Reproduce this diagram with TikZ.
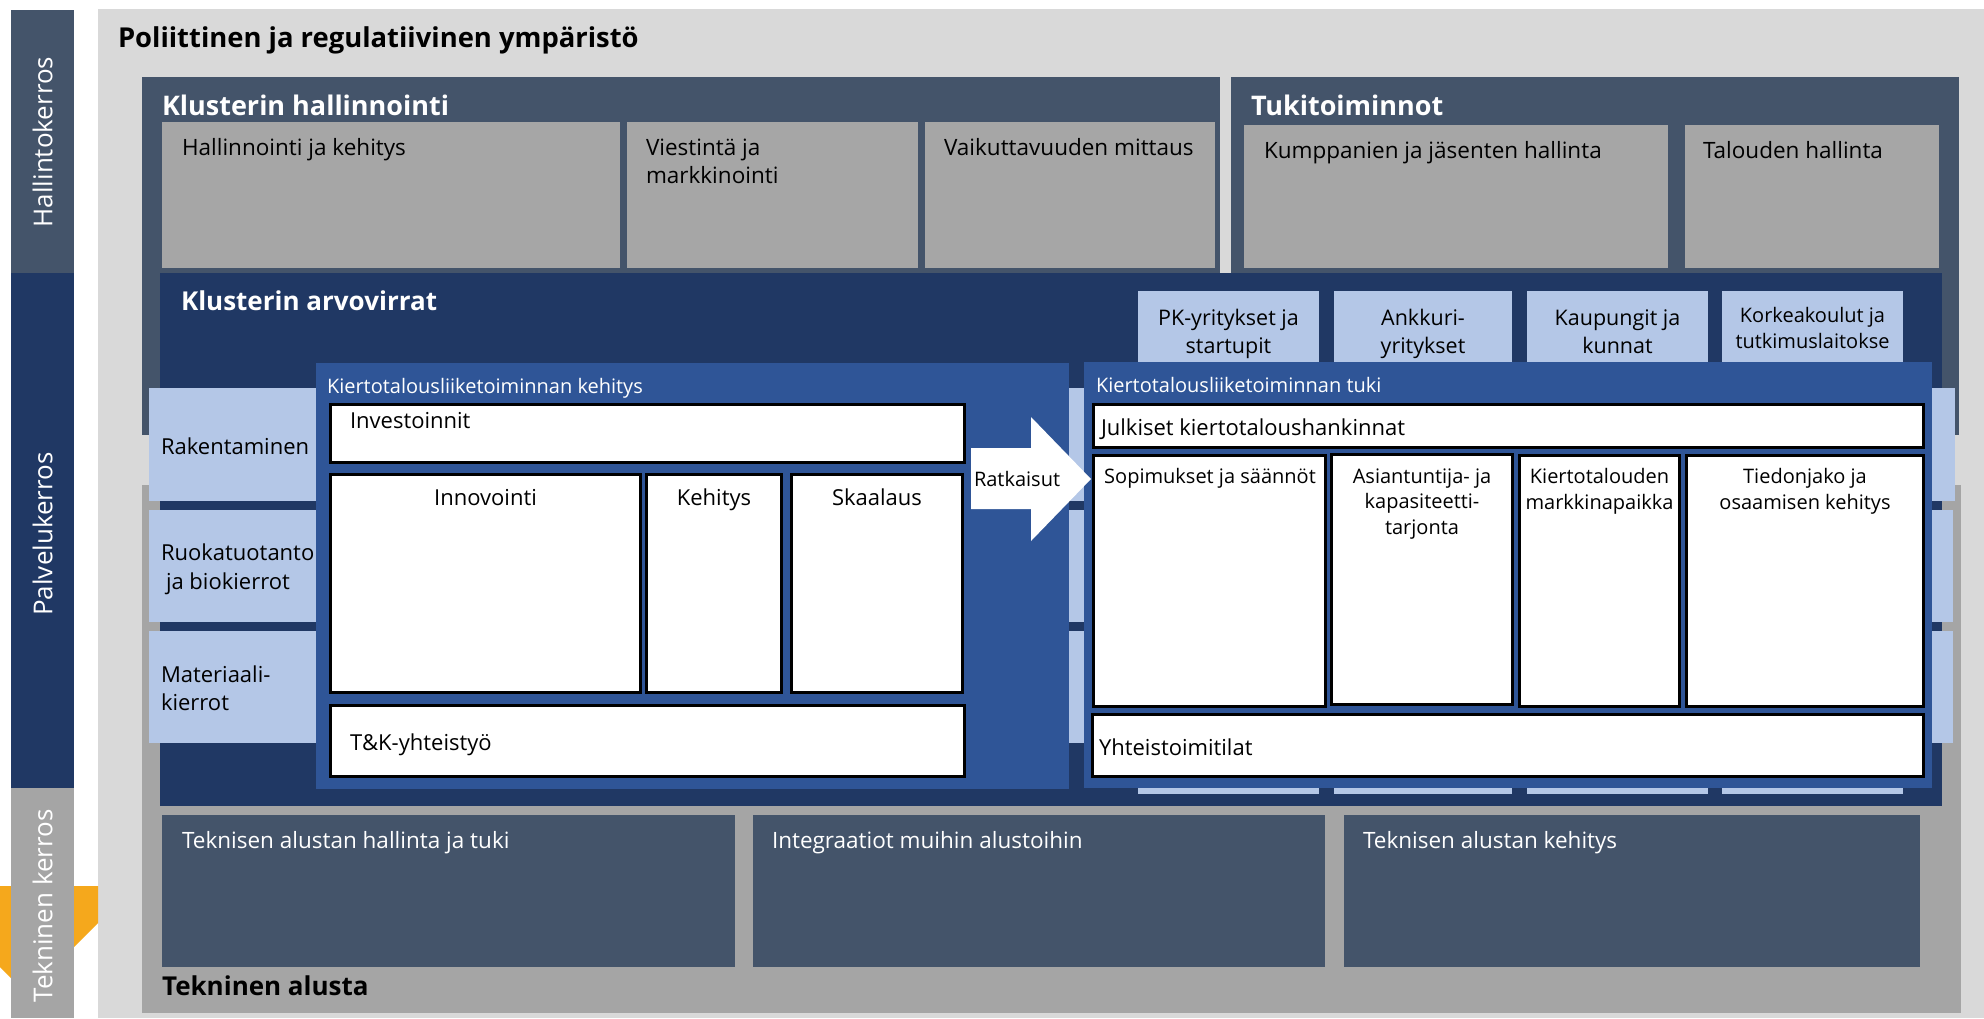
\documentclass[tikz,border=0pt]{standalone}
\usepackage{fontspec}
\setmainfont{Open Sans}
\definecolor{bggray}{HTML}{D9D9D9}
\definecolor{slate}{HTML}{44546A}
\definecolor{navy}{HTML}{203864}
\definecolor{midblue}{HTML}{2F5597}
\definecolor{lblue}{HTML}{B4C7E7}
\definecolor{boxgray}{HTML}{A6A6A6}
\definecolor{platgray}{HTML}{A5A5A5}
\definecolor{orng}{HTML}{F5A81C}
\begin{document}
\begin{tikzpicture}[x=1pt,y=-1pt,
  tl/.style={inner sep=0pt, outer sep=0pt, anchor=base west, align=left},
  tc/.style={inner sep=0pt, outer sep=0pt, anchor=base, align=center},
  reg/.style={font=\fontsize{22.5}{28}\selectfont},
  sm/.style={font=\fontsize{20}{25.5}\selectfont},
  col/.style={font=\fontsize{21.5}{28}\selectfont},
  ttl/.style={font=\bfseries\fontsize{27}{32}\selectfont},
  side/.style={inner sep=0pt, rotate=90, text=white, font=\fontsize{26}{30}\selectfont},
  wbox/.style={fill=white, draw=black, line width=3pt},
]
\useasboundingbox (0,0) rectangle (1984,1018);
\fill[white] (0,0) rectangle (1984,1018);
% background
\fill[bggray] (98,9) rectangle (1984,1018);
% orange chevron
\fill[orng] (0,886) -- (98,886) -- (98,923) -- (27,994) -- (0,967) -- cycle;
% side strips
\fill[slate] (11,10) rectangle (74,273);
\fill[navy] (11,273) rectangle (74,788);
\fill[platgray] (11,788) rectangle (74,1018);
\node[side] (sHall) at (42.5,142) {Hallintokerros};
\node[side] (sPalv) at (42.5,534) {Palvelukerros};
\node[side] (sTekn) at (42.5,906) {Tekninen kerros};
% title
\node[tl,font=\bfseries\fontsize{27.4}{32}\selectfont] (title) at (118,47) {Poliittinen ja regulatiivinen ympäristö};
% platform
\fill[platgray] (142,485) rectangle (1961,1013);
% governance boxes
\fill[slate] (142,77) rectangle (1220,435);
\fill[slate] (1231,77) rectangle (1959,435);
\node[tl,ttl,text=white] (klh) at (162,115) {Klusterin hallinnointi};
\node[tl,ttl,text=white] (tuk) at (1251,115) {Tukitoiminnot};
\fill[boxgray] (162,122) rectangle (620,268);
\fill[boxgray] (627,122) rectangle (918,268);
\fill[boxgray] (925,122) rectangle (1215,268);
\fill[boxgray] (1244,125) rectangle (1668,268);
\fill[boxgray] (1685,125) rectangle (1939,268);
\node[tl,reg] (g1) at (182,155) {Hallinnointi ja kehitys};
\node[tl,reg] (g2) at (646,183) {Viestintä ja\\markkinointi};
\node[tl,reg] (g3) at (944,155) {Vaikuttavuuden mittaus};
\node[tl,reg] (g4) at (1264,158) {Kumppanien ja jäsenten hallinta};
\node[tl,reg] (g5) at (1703,158) {Talouden hallinta};
% value streams
\fill[navy] (160,273) rectangle (1942,806);
\node[tl,font=\bfseries\fontsize{26}{32}\selectfont,text=white] (kla) at (181,310) {Klusterin arvovirrat};
% row bands
\fill[lblue] (149,388) rectangle (1955,501);
\fill[lblue] (149,510) rectangle (1953,622);
\fill[lblue] (149,631) rectangle (1953,743);
% column bands
\fill[lblue] (1138,291) rectangle (1319,794);
\fill[lblue] (1334,291) rectangle (1512,794);
\fill[lblue] (1527,291) rectangle (1708,794);
\fill[lblue] (1722,291) rectangle (1903,794);
\node[tl,reg,font=\fontsize{22}{29}\selectfont] (r1) at (161,454) {Rakentaminen};
\node[tl,reg,font=\fontsize{22}{29}\selectfont] (r2) at (161,589) {Ruokatuotanto\\\hspace*{5pt}ja biokierrot};
\node[tl,reg,font=\fontsize{22}{28}\selectfont] (r3) at (161,710) {Materiaali-\\kierrot};
\node[tc,col] (c1) at (1228.5,353) {PK-yritykset ja\\startupit};
\node[tc,col] (c2) at (1423,353) {Ankkuri-\\yritykset};
\node[tc,col] (c3) at (1617.5,353) {Kaupungit ja\\kunnat};
\node[tc,font=\fontsize{20}{26}\selectfont] (c4) at (1812.5,374) {Korkeakoulut ja\\tutkimuslaitokse\\n};
% development box
\fill[midblue] (316,363) rectangle (1069,789);
\node[tl,sm,text=white] (kehT) at (327,393) {Kiertotalousliiketoiminnan kehitys};
\draw[wbox] (330.5,404.5) rectangle (964.5,462.5);
\draw[wbox] (330.5,474.5) rectangle (640.5,692.5);
\draw[wbox] (646.5,474.5) rectangle (781.5,692.5);
\draw[wbox] (791.5,474.5) rectangle (962.5,692.5);
\draw[wbox] (330.5,705.5) rectangle (964.5,776.5);
\node[tl,reg,font=\fontsize{22}{28}\selectfont] (inv) at (350,428) {Investoinnit};
\node[tc,font=\fontsize{22}{28}\selectfont] (inn) at (485.5,505) {Innovointi};
\node[tc,font=\fontsize{22}{28}\selectfont] (keh) at (714,505) {Kehitys};
\node[tc,font=\fontsize{22}{28}\selectfont] (ska) at (877,505) {Skaalaus};
\node[tl,font=\fontsize{22}{28}\selectfont] (tk) at (350,750) {T\&K-yhteistyö};
% support box
\fill[midblue] (1084,362) rectangle (1932,788);
\node[tl,sm,text=white] (tukT) at (1096,392) {Kiertotalousliiketoiminnan tuki};
\draw[wbox] (1093.5,404.5) rectangle (1923.5,447.5);
\draw[wbox] (1093.5,455.5) rectangle (1325.5,706.5);
\draw[wbox] (1331.5,454.5) rectangle (1512.5,704.5);
\draw[wbox] (1519.5,455.5) rectangle (1679.5,706.5);
\draw[wbox] (1686.5,455.5) rectangle (1923.5,706.5);
\draw[wbox] (1092.5,714.5) rectangle (1923.5,776.5);
\node[tl,font=\fontsize{22}{28}\selectfont] (jul) at (1101,435) {Julkiset kiertotaloushankinnat};
\node[tc,sm] (sop) at (1210,483) {Sopimukset ja säännöt};
\node[tc,font=\fontsize{20}{25.5}\selectfont] (asi) at (1422,534) {Asiantuntija- ja\\kapasiteetti-\\tarjonta};
\node[tc,sm] (kmp) at (1599.5,509) {Kiertotalouden\\markkinapaikka};
\node[tc,sm] (tie) at (1805,509) {Tiedonjako ja\\osaamisen kehitys};
\node[tl,font=\fontsize{22}{28}\selectfont] (yht) at (1099,755) {Yhteistoimitilat};
% arrow
\fill[white] (971,448) -- (1031,448) -- (1031,417) -- (1091,479) -- (1031,541) -- (1031,509) -- (971,509) -- cycle;
\node[tl,sm] (rat) at (974,486) {Ratkaisut};
% technical platform
\fill[slate] (162,815) rectangle (735,967);
\fill[slate] (753,815) rectangle (1325,967);
\fill[slate] (1344,815) rectangle (1920,967);
\node[tl,reg,text=white] (t1) at (182,848) {Teknisen alustan hallinta ja tuki};
\node[tl,reg,text=white] (t2) at (772,848) {Integraatiot muihin alustoihin};
\node[tl,reg,text=white] (t3) at (1363,848) {Teknisen alustan kehitys};
\node[tl,font=\bfseries\fontsize{26}{32}\selectfont] (tal) at (162,995) {Tekninen alusta};
\end{tikzpicture}
\end{document}
